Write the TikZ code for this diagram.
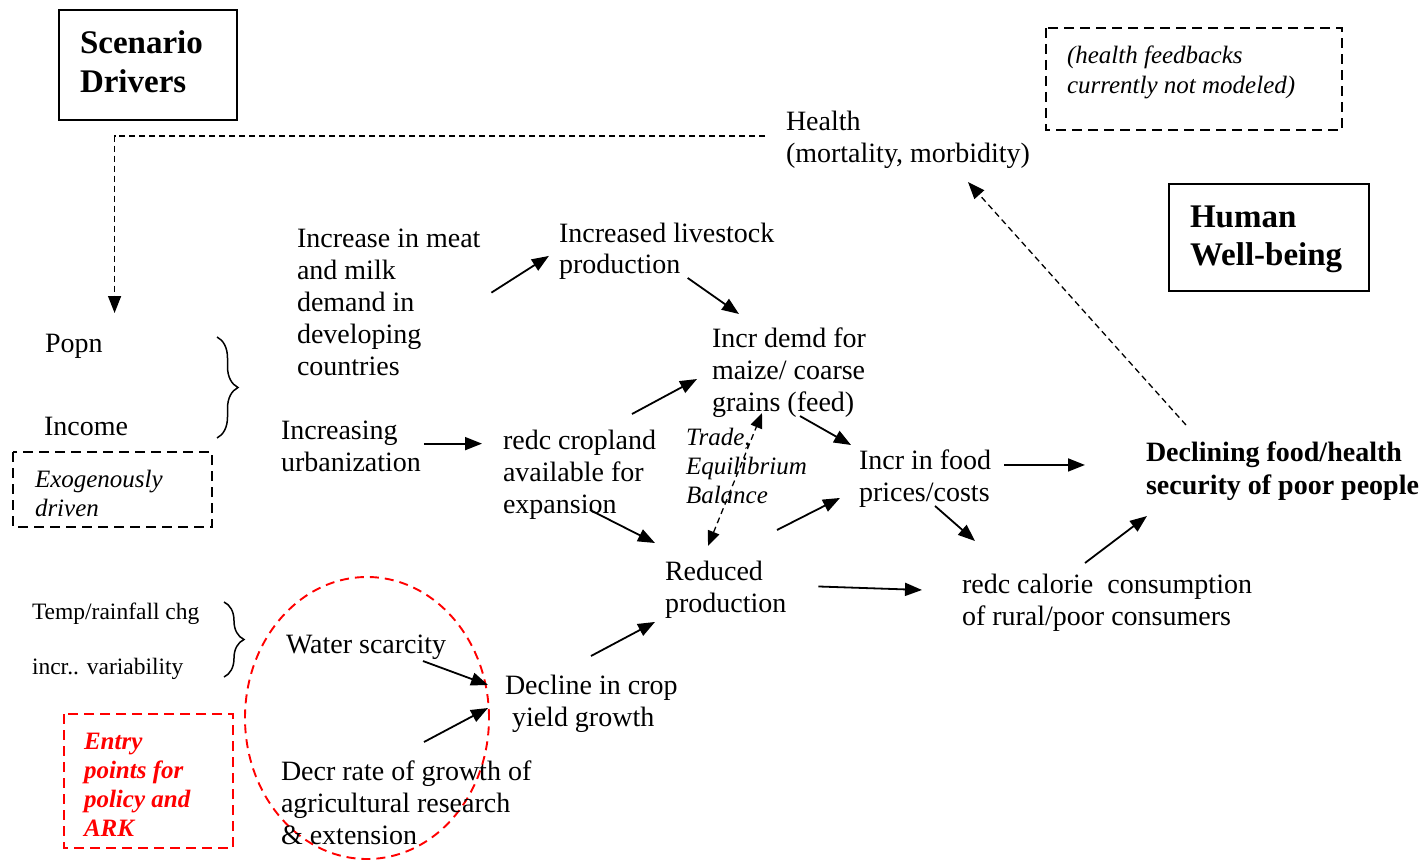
\documentclass[tikz,border=0pt]{standalone}
\usepackage{fontspec}
\setmainfont{Liberation Serif}
\usetikzlibrary{arrows.meta,decorations.pathreplacing,calc}
\newcommand\fs{\rule{0pt}{\dimexpr.75em+2pt\relax}}
\begin{document}
\begin{tikzpicture}[x=1pt,y=-1pt,
  t/.style={anchor=north west, inner sep=0pt, outer sep=0pt, align=left, font=\fontsize{28}{32}\selectfont},
  ti/.style={t, font=\itshape\fontsize{25}{29}\selectfont},
  tb/.style={t, font=\bfseries\fontsize{33}{39}\selectfont},
  ts/.style={t, font=\fontsize{23.5}{28}\selectfont},
  arr/.style={-{Triangle[length=17pt,width=13pt]}, line width=1.8pt},
  darr/.style={arr, dash pattern=on 6pt off 4pt, line width=1.3pt},
  box/.style={line width=1.6pt},
  dbox/.style={line width=1.6pt, dash pattern=on 10pt off 6pt},
  bracestyle/.style={line width=1.5pt, decorate, decoration={brace, amplitude=#1}}
]
\useasboundingbox (0,0) rectangle (1425,861);

% boxes
\draw[box] (59,10) rectangle (237,120);
\draw[box] (1169,184) rectangle (1369,291);
\draw[dbox] (1046,28) rectangle (1342,130);
\draw[dbox] (13,452) rectangle (212,527);
\draw[dbox, red] (64,714) rectangle (233,848);
\draw[red, line width=1.9pt, dash pattern=on 9pt off 6pt] (367,718) ellipse [x radius=122pt, y radius=141pt];

% texts
\node[tb] (scen) at (80,27) {\fs Scenario\\Drivers};
\node[ti, font=\itshape\fontsize{25}{30}\selectfont] (hfb) at (1067,43) {\fs(health feedbacks\\currently not modeled)};
\node[t] (health) at (786,108) {\fs Health\\(mortality, morbidity)};
\node[tb, font=\bfseries\fontsize{33}{38}\selectfont] (human) at (1190,201) {\fs Human\\Well-being};
\node[t] (meat) at (297,224) {\fs Increase in meat\\and milk\\demand in\\developing\\countries};
\node[t] (live) at (559,219) {\fs Increased livestock\\production};
\node[t] (demd) at (712,324) {\fs Incr demd for\\maize/ coarse\\grains (feed)};
\node[t] (popn) at (45,329) {\fs Popn};
\node[t] (income) at (44,412) {\fs Income};
\node[ti] (exo) at (35,467) {\fs Exogenously\\driven};
\node[t] (urb) at (281,416) {\fs Increasing\\urbanization};
\node[t] (crop) at (503,426) {\fs redc cropland\\available for\\expansion};
\node[ti] (trade) at (686,425) {\fs Trade,\\Equilibrium\\Balance};
\node[t] (food) at (859,446) {\fs Incr in food\\prices/costs};
\node[t, font=\bfseries\fontsize{28}{33}\selectfont] (decl) at (1146,438) {\fs Declining food/health\\security of poor people};
\node[t] (red) at (665,557) {\fs Reduced\\production};
\node[t] (cal) at (962,570) {\fs redc calorie\ \ consumption\\of rural/poor consumers};
\node[ts] (temp) at (32,600) {\fs Temp/rainfall chg};
\node[ts] (var) at (32,655) {\fs incr.. variability};
\node[t] (water) at (286,630) {\fs Water scarcity};
\node[t] (decline) at (505,671) {\fs Decline in crop\\\hspace*{7pt}yield growth};
\node[t] (decr) at (281,757) {\fs Decr rate of growth of\\agricultural research\\\& extension};
\node[t, font=\bfseries\itshape\fontsize{25}{29}\selectfont, text=red] (entry) at (84,729) {\fs Entry\\points for\\policy and\\ARK};

% braces
\draw[bracestyle=21pt] (217,337) -- (217,438);
\draw[bracestyle=20pt] (224,602) -- (224,677);

% dashed feedback line
\draw[darr] ([xshift=-21pt,yshift=2.5pt]health.west) -| ([xshift=12pt,yshift=16pt]popn.north east);

% arrows
\draw[arr, shorten <=13pt, shorten >=12pt] (meat.east) -- (live.west);
\draw[arr] ([xshift=21pt,yshift=2pt]live.south) -- ([xshift=27pt,yshift=10pt]demd.north west);
\draw[arr, shorten <=3pt, shorten >=21pt] (urb.east) -- (urb.east -| crop.west);
\draw[arr] ([xshift=129pt,yshift=12pt]crop.north west) -- ([xshift=-15pt,yshift=-8.5pt]demd.west);
\draw[arr] ([xshift=88pt,yshift=1pt]demd.south west) -- ([xshift=-8pt,yshift=1pt]food.north west);
\draw[arr] ([xshift=87pt,yshift=9pt]crop.south west) -- ([xshift=-10pt,yshift=14pt]red.north west);
\draw[arr] ([xshift=112pt,yshift=27pt]red.north west) -- ([xshift=-19pt,yshift=9pt]food.south west);
\draw[arr] ([xshift=13pt,yshift=11.5pt]food.east) -- ([xshift=-61pt,yshift=11.5pt]food.east -| decl.west);
\draw[arr] ([xshift=76pt,yshift=1pt]food.south west) -- ([xshift=13pt,yshift=29pt]cal.north west);
\draw[arr] ([xshift=32pt,yshift=1pt]red.east) -- ([xshift=-40pt,yshift=10.5pt]cal.west);
\draw[arr] ([xshift=123pt,yshift=7pt]cal.north west) -- ([xshift=1pt,yshift=-16pt]decl.south west);
\draw[arr] ([xshift=86pt,yshift=15pt]decline.north west) -- ([xshift=-10pt,yshift=-4pt]red.south west);
\draw[arr] ([xshift=137pt,yshift=-2pt]water.south west) -- ([xshift=-17pt,yshift=-14pt]decline.north west);
\draw[arr] ([xshift=143pt,yshift=15pt]decr.north west) -- ([xshift=-17pt,yshift=-37pt]decline.north west);
\draw[darr] ([xshift=40pt,yshift=13pt]decl.north west) -- ([xshift=182pt,yshift=-13pt]health.south west);
\draw[darr, {Triangle[length=15pt,width=12pt]}-{Triangle[length=15pt,width=12pt]}] ([xshift=43pt,yshift=11pt]red.north west) -- ([xshift=50pt,yshift=4pt]demd.south west);
\end{tikzpicture}
\end{document}
